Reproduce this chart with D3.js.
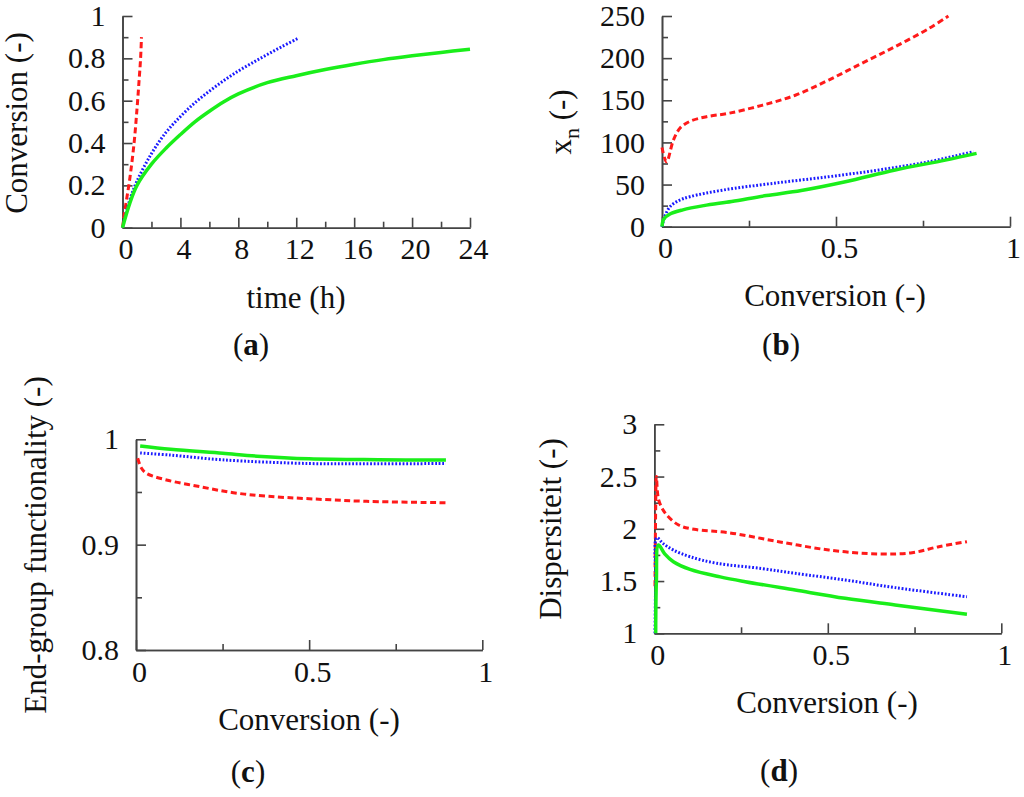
<!DOCTYPE html>
<html>
<head>
<meta charset="utf-8">
<script src="https://cdn.jsdelivr.net/npm/d3@7"></script>
<style>
  body { margin: 0; background: #fff; }
  svg { display: block; }
  text { font-family: "Liberation Serif", "Times New Roman", serif; fill: #111; }
</style>
</head>
<body>
<svg id="chart" width="1024" height="797"></svg>
<script>
// ---------- DATA ----------
// Panel (a): conversion vs time (h)
const aRedT   = [0, 0.16, 0.5, 0.8, 1.0, 1.15, 1.25, 1.31];
const aRedY   = [0, 0.08, 0.23, 0.4, 0.56, 0.7, 0.8, 0.9];
const aBlueT  = [0, 0.5, 1, 2, 3, 4, 5, 6, 7, 8, 9, 10, 11, 12.14];
const aBlueY  = [0, 0.13, 0.22, 0.35, 0.45, 0.525, 0.59, 0.645, 0.695, 0.74, 0.78, 0.818, 0.855, 0.895];
const aGreenT = [0, 0.5, 1, 2, 3, 4, 5, 6, 7, 8, 10, 12, 14, 16, 18, 20, 22, 24];
const aGreenY = [0, 0.115, 0.2, 0.3, 0.375, 0.44, 0.5, 0.55, 0.595, 0.632, 0.685, 0.718, 0.747, 0.772, 0.794, 0.812, 0.828, 0.843];
const aTicksX = [0, 4, 8, 12, 16, 20, 24];
const aMinorX = [2, 6, 10, 14, 18, 22];
const aTicksY = [0, 0.2, 0.4, 0.6, 0.8, 1];
const aMinorY = [0.1, 0.3, 0.5, 0.7, 0.9];

// Panel (b): xn vs conversion
const bRedX   = [0, 0.013, 0.033, 0.052, 0.08, 0.128, 0.192, 0.287, 0.383, 0.479, 0.575, 0.67, 0.766, 0.823];
const bRedY   = [94, 77, 103, 117, 125, 130.5, 134.6, 144, 156, 174, 194, 213.6, 235, 250];
const bBlueX  = [0, 0.008, 0.023, 0.048, 0.08, 0.176, 0.32, 0.479, 0.623, 0.766, 0.895];
const bBlueY  = [0, 12, 23.7, 31, 35.6, 43.5, 51.5, 59.3, 67.3, 77, 89];
const bGreenX = [0, 0.005, 0.023, 0.06, 0.12, 0.2, 0.3, 0.4, 0.527, 0.67, 0.814, 0.904];
const bGreenY = [0, 9, 15, 20, 25, 30, 37, 43, 53.4, 67.3, 79, 87];
const bTicksX = [0, 0.5, 1];
const bMinorX = [0.25, 0.75];
const bTicksY = [0, 50, 100, 150, 200, 250];
const bMinorY = [25, 75, 125, 175, 225];

// Panel (c): end-group functionality vs conversion
const cRedX   = [0.005, 0.015, 0.03, 0.088, 0.185, 0.281, 0.377, 0.5, 0.666, 0.896];
const cRedY   = [0.982, 0.973, 0.9677, 0.9614, 0.955, 0.9493, 0.946, 0.9436, 0.9411, 0.9398];
const cBlueX  = [0.012, 0.1, 0.25, 0.5, 0.7, 0.895];
const cBlueY  = [0.987, 0.985, 0.9805, 0.977, 0.9768, 0.977];
const cGreenX = [0.012, 0.1, 0.25, 0.35, 0.5, 0.7, 0.895];
const cGreenY = [0.9936, 0.9905, 0.9867, 0.984, 0.9815, 0.9806, 0.9803];
const cTicksX = [0, 0.5, 1];
const cMinorX = [0.25, 0.75];
const cTicksY = [0.8, 0.9, 1];
const cMinorY = [0.85, 0.95];

// Panel (d): dispersity vs conversion
const dRedX   = [0.002, 0.004, 0.006, 0.0127, 0.032, 0.07, 0.115, 0.214, 0.358, 0.503, 0.647, 0.743, 0.82, 0.901];
const dRedY   = [1.45, 2.2, 2.5, 2.276, 2.148, 2.036, 1.995, 1.963, 1.877, 1.797, 1.759, 1.771, 1.829, 1.877];
const dBlueX  = [0.002, 0.004, 0.007, 0.025, 0.055, 0.103, 0.18, 0.31, 0.406, 0.55, 0.694, 0.901];
const dBlueY  = [1.0, 1.5, 1.915, 1.86, 1.797, 1.733, 1.67, 1.62, 1.574, 1.51, 1.437, 1.35];
const dGreenX = [0.004, 0.006, 0.012, 0.03, 0.055, 0.103, 0.19, 0.262, 0.406, 0.55, 0.694, 0.901];
const dGreenY = [1.0, 1.5, 1.845, 1.76, 1.685, 1.612, 1.54, 1.494, 1.414, 1.335, 1.271, 1.182];
const dTicksX = [0, 0.5, 1];
const dMinorX = [0.25, 0.75];
const dTicksY = [1, 1.5, 2, 2.5, 3];
const dMinorY = [1.25, 1.75, 2.25, 2.75];

// ---------- STYLE ----------
const styles = {
  red:   { color: "#ff1a1a", dash: "6,3.5", width: 3 },
  blue:  { color: "#1a1aff", dash: "1.8,1.8", width: 3 },
  green: { color: "#1aee1a", dash: null, width: 3.5 }
};
const AXIS_COLOR = "#444";
const FS_TICK = 30, FS_LABEL = 31;

const svg = d3.select("#chart");

function zip(xs, ys) { return xs.map((x, i) => [x, ys[i]]); }

function panel(cfg) {
  const x = d3.scaleLinear().domain(cfg.xDomain).range(cfg.xRange);
  const y = d3.scaleLinear().domain(cfg.yDomain).range(cfg.yRange);
  const g = svg.append("g");
  const y0 = cfg.yRange[0], x0 = cfg.xRange[0];

  // minor ticks
  g.append("g").attr("transform", `translate(0,${y0})`)
    .call(d3.axisBottom(x).tickValues(cfg.minorX).tickSize(-6).tickSizeOuter(0).tickFormat(""));
  g.append("g").attr("transform", `translate(${x0},0)`)
    .call(d3.axisLeft(y).tickValues(cfg.minorY).tickSize(-6).tickSizeOuter(0).tickFormat(""));
  // major ticks with labels
  g.append("g").attr("class", "ax").attr("transform", `translate(0,${y0})`)
    .call(d3.axisBottom(x).tickValues(cfg.ticksX).tickSize(-10).tickSizeOuter(0).tickPadding(10)
      .tickFormat(d => String(d)));
  g.append("g").attr("class", "ax").attr("transform", `translate(${x0},0)`)
    .call(d3.axisLeft(y).tickValues(cfg.ticksY).tickSize(-10).tickSizeOuter(0).tickPadding(17)
      .tickFormat(d => String(d)));

  g.selectAll("path.domain, .tick line").attr("stroke", AXIS_COLOR).attr("stroke-width", 1.6);
  g.selectAll(".tick text").attr("font-size", FS_TICK)
    .attr("font-family", "'Liberation Serif', serif").attr("fill", "#111");
  g.selectAll(".ax .tick text").filter(function () { return this.getAttribute("dy") === "0.71em"; })
    .attr("dy", "0.72em").attr("x", cfg.xTickShift || 3);

  // lines
  const line = d3.line().x(d => x(d[0])).y(d => y(d[1])).curve(d3.curveCatmullRom.alpha(0.5));
  cfg.series.forEach(s => {
    const st = styles[s.style];
    g.append("path").datum(zip(s.xs, s.ys))
      .attr("d", line).attr("fill", "none")
      .attr("stroke", st.color).attr("stroke-width", st.width)
      .attr("stroke-dasharray", st.dash).attr("stroke-linejoin", "round");
  });

  // axis labels
  g.append("text").attr("x", cfg.xLabelPos[0]).attr("y", cfg.xLabelPos[1])
    .attr("text-anchor", "middle").attr("font-size", FS_LABEL).text(cfg.xLabel);
  const yl = g.append("text")
    .attr("transform", `translate(${cfg.yLabelPos[0]},${cfg.yLabelPos[1]}) rotate(-90)`)
    .attr("text-anchor", "middle").attr("font-size", FS_LABEL);
  if (cfg.yLabelSub) {
    yl.append("tspan").text(cfg.yLabel);
    yl.append("tspan").attr("font-size", 22).attr("dy", 8).text(cfg.yLabelSub);
    yl.append("tspan").attr("dy", -8).text(" (-)");
  } else {
    yl.text(cfg.yLabel);
  }
  // panel letter
  const pl = g.append("text").attr("x", cfg.letterPos[0]).attr("y", cfg.letterPos[1])
    .attr("text-anchor", "middle").attr("font-size", FS_LABEL);
  pl.append("tspan").text("(");
  pl.append("tspan").attr("font-weight", "bold").text(cfg.letter);
  pl.append("tspan").text(")");
}

panel({
  xDomain: [0, 24], xRange: [122.5, 470], yDomain: [0, 1], yRange: [227.7, 16],
  ticksX: aTicksX, minorX: aMinorX, ticksY: aTicksY, minorY: aMinorY,
  series: [
    { xs: aRedT, ys: aRedY, style: "red" },
    { xs: aBlueT, ys: aBlueY, style: "blue" },
    { xs: aGreenT, ys: aGreenY, style: "green" }
  ],
  xLabel: "time (h)", xLabelPos: [296, 308],
  yLabel: "Conversion (-)", yLabelPos: [27, 123],
  letter: "a", letterPos: [251, 355]
});

panel({
  xDomain: [0, 1], xRange: [662, 1010], yDomain: [0, 250], yRange: [226.7, 16],
  ticksX: bTicksX, minorX: bMinorX, ticksY: bTicksY, minorY: bMinorY,
  series: [
    { xs: bRedX, ys: bRedY, style: "red" },
    { xs: bBlueX, ys: bBlueY, style: "blue" },
    { xs: bGreenX, ys: bGreenY, style: "green" }
  ],
  xLabel: "Conversion (-)", xLabelPos: [835, 306],
  yLabel: "x", yLabelSub: "n", yLabelPos: [571, 122],
  letter: "b", letterPos: [781, 355]
});

panel({
  xDomain: [0, 1], xRange: [136, 482.3], yDomain: [0.8, 1], yRange: [650, 439.3],
  ticksX: cTicksX, minorX: cMinorX, ticksY: cTicksY, minorY: cMinorY,
  series: [
    { xs: cRedX, ys: cRedY, style: "red" },
    { xs: cBlueX, ys: cBlueY, style: "blue" },
    { xs: cGreenX, ys: cGreenY, style: "green" }
  ],
  xLabel: "Conversion (-)", xLabelPos: [309, 730],
  yLabel: "End-group functionality (-)", yLabelPos: [46, 545],
  letter: "c", letterPos: [248, 782]
});

panel({
  xDomain: [0, 1], xRange: [654.3, 1001.3], yDomain: [1, 3], yRange: [633.3, 424.3],
  ticksX: dTicksX, minorX: dMinorX, ticksY: dTicksY, minorY: dMinorY,
  series: [
    { xs: dRedX, ys: dRedY, style: "red" },
    { xs: dBlueX, ys: dBlueY, style: "blue" },
    { xs: dGreenX, ys: dGreenY, style: "green" }
  ],
  xLabel: "Conversion (-)", xLabelPos: [827, 713],
  yLabel: "Dispersiteit (-)", yLabelPos: [561, 529],
  letter: "d", letterPos: [779, 781]
});
</script>
</body>
</html>
